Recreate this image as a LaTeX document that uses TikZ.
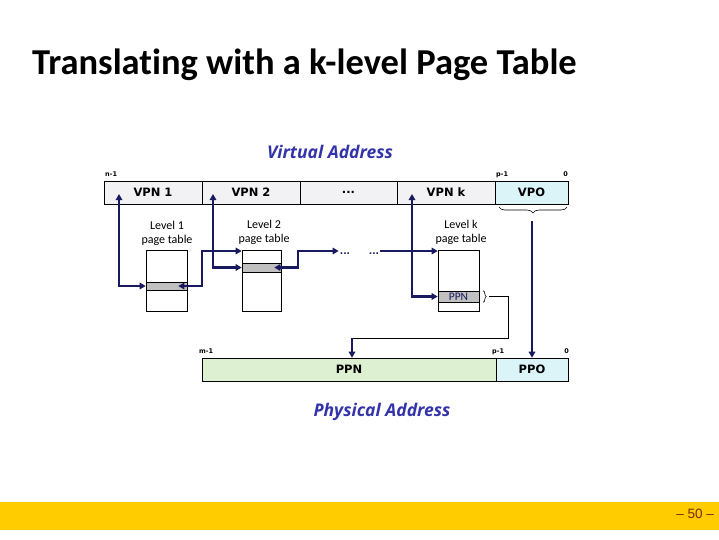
\documentclass[tikz,border=0pt]{standalone}
\usepackage{fontspec}
\setmainfont{Carlito}[Ligatures={NoCommon}]
\newfontfamily\dv{DejaVu Sans}
\newfontfamily\os{Open Sans}
\newfontfamily\lib{Liberation Sans}
\usetikzlibrary{arrows.meta,decorations.pathreplacing,calc}
\definecolor{navy}{RGB}{25,25,95}
\definecolor{vagray}{RGB}{242,242,244}
\definecolor{vpocyan}{RGB}{218,244,248}
\definecolor{ppngreen}{RGB}{221,240,210}
\definecolor{rowgray}{RGB}{192,192,192}
\definecolor{vablue}{RGB}{51,51,170}
\definecolor{yel}{RGB}{255,204,0}
\definecolor{foot}{RGB}{120,40,20}
\tikzset{
  cell/.style={draw=black, line width=0.6pt, fill=vagray, minimum height=23pt, inner sep=0pt, font=\dv\bfseries\fontsize{11.5}{13}\selectfont},
  tbl/.style={draw=black, line width=0.6pt, fill=white, minimum width=41pt, minimum height=61pt, inner sep=0pt},
  tblrow/.style={draw=black, line width=0.6pt, fill=rowgray, minimum width=41pt, inner sep=0pt},
  lvl/.style={align=center, font=\fontsize{12}{14}\selectfont, inner sep=0pt},
  bitlab/.style={font=\dv\bfseries\fontsize{6.5}{8}\selectfont, inner sep=0pt},
  addr/.style={font=\os\bfseries\itshape\fontsize{17.5}{20}\selectfont, text=vablue, inner sep=0pt},
  nv/.style={draw=navy, line width=2.4pt},
  thinln/.style={draw=black, line width=0.6pt},
  dotsn/.style={font=\dv\bfseries\fontsize{9}{10}\selectfont, text=navy, inner sep=1pt},
  >={Triangle[length=6pt,width=6.5pt]}
}
\begin{document}
\begin{tikzpicture}[x=1pt,y=-1pt]
\useasboundingbox (0,0) rectangle (719,539);
\fill[white] (0,0) rectangle (719,539);
\fill[yel] (0,502) rectangle (719,530);

% title
\node[anchor=base west, inner sep=0pt, font=\bfseries\fontsize{36.5}{40}\selectfont] (title) at (32,74) {Translating with a k-level Page Table};

% virtual address
\node[addr, anchor=base] (vatext) at (330,158) {Virtual Address};
\node[cell, minimum width=98pt] (vpn1) at (153,192.5) {VPN 1};
\node[cell, minimum width=98pt] (vpn2) at (251,192.5) {VPN 2};
\node[cell, minimum width=97pt] (vdots) at (348.5,192.5) {...};
\node[cell, minimum width=98pt] (vpnk) at (446,192.5) {VPN k};
\node[cell, minimum width=73pt, fill=vpocyan] (vpo) at (531.5,192.5) {VPO};
\node[bitlab, anchor=base west] (n1) at (105,176.5) {n-1};
\node[bitlab, anchor=base west] (vp1) at (496,176.5) {p-1};
\node[bitlab, anchor=base east] (v0) at (568,176.5) {0};

% page tables
\node[lvl] (l1) at (167,233) {Level 1\\page table};
\node[lvl] (l2) at (264,232) {Level 2\\page table};
\node[lvl] (lk) at (461,232) {Level k\\page table};
\node[tbl] (t1) at (166.5,280.5) {};
\node[tbl, minimum width=39pt] (t2) at (261.5,280.5) {};
\node[tbl] (tk) at (458.5,280.5) {};
\node[tblrow, minimum height=8pt] (r1) at (166.5,286) {};
\node[tblrow, minimum height=9pt, minimum width=39pt] (r2) at (261.5,267.5) {};
\node[tblrow, minimum height=11pt, font=\fontsize{11.5}{12}\selectfont, text=navy] (rk) at (458.5,296.5) {PPN};

% dots
\node[dotsn, anchor=base] (d1) at (345,254) {...};
\node[dotsn, anchor=base] (d2) at (374,254) {...};

% physical address
\node[cell, minimum width=294pt, fill=ppngreen] (ppn) at (349,369.5) {PPN};
\node[cell, minimum width=72pt, fill=vpocyan] (ppo) at (532,369.5) {PPO};
\node[bitlab, anchor=base west] (m1) at (199,353.5) {m-1};
\node[bitlab, anchor=base west] (pp1) at (492,353.5) {p-1};
\node[bitlab, anchor=base east] (p0) at (569,353.5) {0};
\node[addr, anchor=base] (patext) at (382,416) {Physical Address};

% footer
\node[anchor=base east, inner sep=0pt, font=\lib\fontsize{13.5}{15}\selectfont, text=foot] (pg) at (714,518) {– 50 –};

% connectors
\coordinate (a1) at (119,194);
\coordinate (a2) at (213,194);
\coordinate (ak) at (412,194);
\draw[nv,<->] (a1) |- (t1.west |- r1);
\draw[nv,<->] (a2) |- (t2.west |- r2);
\draw[nv,<->] (ak) |- (tk.west |- rk);

\coordinate (k1) at (202,251);
\coordinate (k2) at (298,251);
\draw[nv,<->] ($(r1.east)+(-9,0)$) -| (k1) -- (k1 -| t2.west);
\draw[nv,<->] ($(r2.east)+(-7,0)$) -| (k2) -- (k2 -| d1.west);
\draw[nv,->] (d2.east |- k1) -- (k1 -| tk.west);

% PPN brace and line
\draw[thinln, decorate, decoration={brace, amplitude=3pt}] ($(rk.north east)+(4,0)$) -- ($(rk.south east)+(4,0)$);
\coordinate (q1) at (508,296.5);
\coordinate (q2) at (352,338);
\draw[thinln] ($(rk.east)+(10,0)$) -- (q1) |- (q2);
\draw[nv,->] (q2) -- (q2 |- ppn.north);

% VPO brace and line
\draw[thinln, decorate, decoration={brace, amplitude=6pt}] (567,207) -- (499,207);
\coordinate (v1) at (532,221);
\draw[nv,->] (v1) -- (v1 |- ppo.north);
\end{tikzpicture}
\end{document}
